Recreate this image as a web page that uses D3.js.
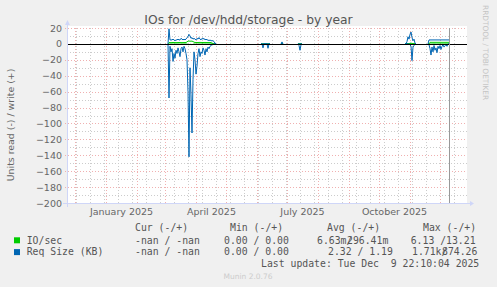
<!DOCTYPE html>
<html lang="en">
<head>
<meta charset="UTF-8">
<title>IOs for /dev/hdd/storage - by year</title>
<script src="https://d3js.org/d3.v7.min.js"></script>
<style>
  body { margin: 0; background: #f0f0f0; }
  svg { display: block; }
  .title { font-family: "DejaVu Sans", sans-serif; font-size: 12.3px; fill: #555; }
  .axis text { font-family: "DejaVu Sans", sans-serif; font-size: 9.5px; fill: #666; }
  .legend text { font-family: "DejaVu Sans Mono", monospace; font-size: 9.8px; fill: #555; white-space: pre; }
</style>
</head>
<body>
<script>
const parseDay = d3.timeParse("%Y-%m-%d");

// 400 day window
const timeStart = "2024-11-23";
const timeEnd = "2025-12-28";
const nowTime = "2025-12-09T22:10";

const yTicks = [20, 0, -20, -40, -60, -80, -100, -120, -140, -160, -180, -200];
const monthLabels = ["2025-01-16", "2025-04-16", "2025-07-16", "2025-10-16"];
const minorGridAnchor = "2025-07-28";

// each run of daily samples starts on one of these days
const runStarts = ["2025-03-04", "2025-06-05", "2025-06-25", "2025-07-12", "2025-10-27", "2025-11-19"];

// IO/sec
const ioWrite = [
  [0, 1.7, 1.7, 1.6, 1.7, 1.8, 1.7, 1.7, 1.6, 1.7, 1.7, 1.8, 1.7, 1.7, 1.6, 1.7, 1.7, 1.8, 1.7, 2.5, 3.5, 3.6, 3.4, 3.5, 3.5, 3.0, 2.2,
   1.8, 1.8, 1.7, 1.8, 1.8, 1.9, 1.8, 1.8, 1.7, 1.8, 1.8, 1.8, 1.7, 1.8, 1.8, 1.8, 1.7, 1.0, 0.5, 0, 0, 0],
  [0, 0, 0, 0, 0, 0, 0, 0, 0, 0],
  [0, 0.2, 0],
  [0, 0, 0, 0, 0],
  [0, 0, 0.3, 0.6, 0.4, 0.8, 1.0, 0.5, 0.3, 0.4, 0.1, 0],
  [0, 0, 2, 2, 2, 2, 2, 2, 2, 2, 2, 2, 2, 2, 2, 2, 2, 2, 2, 2, 2, 2]
];
const ioRead = [
  [0, -0.4, -0.1, -0.2, -0.1, -0.3, -0.2, -0.2, -0.1, -0.2, -0.1, -0.2, -0.3, -0.1, -0.1, -0.2, -0.1, -0.1, -0.2, -0.3, -0.6, -1.2, -0.4, -0.7, -1.0, -0.5, -0.2,
   -0.2, -0.4, -0.3, -0.2, -0.1, -0.2, -0.2, -0.1, -0.1, -0.2, -0.1, -0.1, -0.2, -0.1, -0.1, -0.1, -0.1, 0, 0, 0, 0, 0],
  [0, 0, -0.1, 0, 0, 0, 0, -0.1, 0, 0],
  [0, 0, 0],
  [0, 0, -0.1, 0, 0],
  [0, 0, 0, 0, 0, 0, -0.1, -0.3, -0.1, 0, 0, 0],
  [0, 0, -0.1, -0.2, -0.1, -0.1, 0, -0.1, -0.1, -0.2, 0, -0.1, 0, -0.1, 0, 0, -0.1, 0, 0, 0, 0, 0]
];

// Req Size (KB)
const reqWrite = [
  [0, 19, 5, 5, 5, 6, 5, 4, 5, 5, 6, 5, 5, 7, 6, 5, 6, 5, 6, 8, 9, 12, 10, 7, 8, 6, 7, 6, 5, 7, 6, 8, 6, 5, 7, 6, 7, 5, 6, 5, 5, 4, 5, 4, 4, 4, 3, 1, 0],
  [0, 0, 0, 0, 0, 0, 0, 0, 0, 0],
  [0, 2.5, 0],
  [0, 0, 0, 0, 0],
  [0, 0, 3, 9, 6, 12, 15, 8, 4, 6, 1, 0],
  [0, 5, 5, 5, 5, 5, 5, 5, 5, 5, 5, 5, 5, 5, 5, 5, 5, 5, 5, 5, 5, 5]
];
const reqRead = [
  [0, -68, -3, -10, -6, -22, -12, -18, -8, -12, -5, -10, -16, -6, -4, -10, -3, -6, -12, -20, -60, -142, -30, -64, -112, -45, -10, -20, -38, -28,
   -12, -6, -16, -10, -12, -5, -8, -14, -6, -10, -4, -6, -3, -2, -1, -1, 0, 0, 0],
  [0, 0, -5, 0, 0, 0, 0, -5.5, 0, 0],
  [0, 0, 0],
  [0, -2, -8, -1, 0],
  [0, 0, 0, 0, 0, -1, -3, -21, -4, -2, 0, 0],
  [0, -1, -6, -14, -4, -10, -2, -8, -5, -11, -3, -6, -2, -7, -3, -1, -4, -2, -1, -3, 0, 0]
];

const legendRows = [
  { name: "IO/sec", color: "#00cc00", cur: "-nan / -nan", min: "0.00 / 0.00", avg: ["6.63m/", "296.41m"], max: ["6.13 /13.21", ""] },
  { name: "Req Size (KB)", color: "#0066b3", cur: "-nan / -nan", min: "0.00 / 0.00", avg: ["2.32 / 1.19", ""], max: ["1.71k/", "874.26"] }
];

const width = 497, height = 287;
const plot = { left: 67, right: 467, top: 28, bottom: 203 };

const svg = d3.select("body").append("svg")
  .attr("width", width)
  .attr("height", height);

svg.append("rect").attr("width", width).attr("height", height).attr("fill", "#f0f0f0");
svg.append("rect")
  .attr("x", plot.left).attr("y", plot.top - 2)
  .attr("width", plot.right - plot.left).attr("height", plot.bottom - plot.top + 2)
  .attr("fill", "#fff");

const xScale = d3.scaleTime()
  .domain([parseDay(timeStart), parseDay(timeEnd)])
  .range([plot.left, plot.right]);
const yScale = d3.scaleLinear()
  .domain([-200, 20])
  .range([plot.bottom, plot.top]);

// grid
const minorColor = "#cccccc", majorColor = "#f0b0b0";
const grid = svg.append("g").attr("shape-rendering", "crispEdges");
const minorDays = d3.timeDay.every(1).range(parseDay(timeStart), parseDay(timeEnd))
  .filter(d => Math.round((d - parseDay(minorGridAnchor)) / 864e5) % 14 === 0);
grid.selectAll(".vminor").data(minorDays).enter().append("line")
  .attr("x1", d => Math.round(xScale(d)) + 0.5).attr("x2", d => Math.round(xScale(d)) + 0.5)
  .attr("y1", plot.top).attr("y2", plot.bottom)
  .attr("stroke", minorColor).attr("stroke-dasharray", "1,2");
const yMinor = d3.range(-190, 20, 20);
grid.selectAll(".hminor").data(yMinor).enter().append("line")
  .attr("x1", plot.left).attr("x2", plot.right)
  .attr("y1", d => Math.round(yScale(d)) + 0.5).attr("y2", d => Math.round(yScale(d)) + 0.5)
  .attr("stroke", minorColor).attr("stroke-dasharray", "1,2");
const months = d3.timeMonth.range(parseDay(timeStart), parseDay(timeEnd));
grid.selectAll(".vmajor").data(months).enter().append("line")
  .attr("x1", d => Math.round(xScale(d)) + 0.5).attr("x2", d => Math.round(xScale(d)) + 0.5)
  .attr("y1", plot.top).attr("y2", plot.bottom + 2)
  .attr("stroke", majorColor).attr("stroke-dasharray", "1,2");
grid.selectAll(".hmajor").data(yTicks.filter(v => v !== 0 && v !== -200)).enter().append("line")
  .attr("x1", plot.left - 2).attr("x2", plot.right)
  .attr("y1", d => Math.round(yScale(d)) + 0.5).attr("y2", d => Math.round(yScale(d)) + 0.5)
  .attr("stroke", majorColor).attr("stroke-dasharray", "1,2");

// data lines
const lineFor = start => d3.line()
  .x((d, i) => xScale(d3.timeDay.offset(parseDay(start), i)))
  .y(d => yScale(d));

const series = [
  { runs: ioRead, color: "#00cc00" },
  { runs: ioWrite, color: "#00cc00" },
  { runs: reqRead, color: "#0066b3" },
  { runs: reqWrite, color: "#0066b3" }
];
series.forEach(s => {
  svg.append("g").selectAll("path").data(s.runs).enter().append("path")
    .attr("d", (vals, k) => lineFor(runStarts[k])(vals))
    .attr("fill", "none")
    .attr("stroke", s.color)
    .attr("stroke-width", 1);
});

// zero line
svg.append("line")
  .attr("x1", plot.left).attr("x2", plot.right)
  .attr("y1", Math.round(yScale(0)) + 0.5).attr("y2", Math.round(yScale(0)) + 0.5)
  .attr("stroke", "#000").attr("shape-rendering", "crispEdges");

// now line
const nowX = Math.round(xScale(new Date(nowTime))) + 0.5;
svg.append("line")
  .attr("x1", nowX).attr("x2", nowX)
  .attr("y1", plot.top).attr("y2", plot.bottom)
  .attr("stroke", "#999").attr("shape-rendering", "crispEdges");

// axes lines + arrows
const axisColor = "#cfd6f8";
svg.append("line").attr("x1", plot.left - 4).attr("x2", plot.right + 4)
  .attr("y1", plot.bottom + 0.5).attr("y2", plot.bottom + 0.5)
  .attr("stroke", axisColor).attr("shape-rendering", "crispEdges");
svg.append("line").attr("x1", plot.left + 0.5).attr("x2", plot.left + 0.5)
  .attr("y1", plot.bottom + 4).attr("y2", plot.top - 4)
  .attr("stroke", axisColor).attr("shape-rendering", "crispEdges");
svg.append("path")
  .attr("d", `M${plot.right + 3},${plot.bottom - 2} L${plot.right + 7},${plot.bottom + 0.5} L${plot.right + 3},${plot.bottom + 3} Z`)
  .attr("fill", axisColor);
svg.append("path")
  .attr("d", `M${plot.left - 2},${plot.top - 3} L${plot.left + 0.5},${plot.top - 8} L${plot.left + 3},${plot.top - 3} Z`)
  .attr("fill", axisColor);

// tick labels
const yAxis = svg.append("g").attr("class", "axis")
  .attr("transform", `translate(${plot.left - 3},0)`)
  .call(d3.axisLeft(yScale).tickValues(yTicks).tickSize(0).tickPadding(2));
yAxis.select(".domain").remove();

const xAxis = svg.append("g").attr("class", "axis")
  .attr("transform", `translate(0,${plot.bottom + 2})`)
  .call(d3.axisBottom(xScale).tickValues(monthLabels.map(parseDay))
    .tickFormat(d3.timeFormat("%B %Y")).tickSize(0).tickPadding(3));
xAxis.select(".domain").remove();
xAxis.selectAll("text").attr("font-size", "9.8px");

// title and side texts
svg.append("text").attr("class", "title")
  .attr("x", 248.5).attr("y", 24).attr("text-anchor", "middle")
  .text("IOs for /dev/hdd/storage - by year");

svg.append("text")
  .attr("transform", "translate(14,125) rotate(-90)")
  .attr("text-anchor", "middle")
  .attr("font-family", "DejaVu Sans, sans-serif").attr("font-size", "9.4px").attr("fill", "#666")
  .text("Units read (-) / write (+)");

svg.append("text")
  .attr("transform", "translate(483,5) rotate(90)")
  .attr("text-anchor", "start")
  .attr("font-family", "DejaVu Sans, sans-serif").attr("font-size", "7.4px").attr("fill", "#c4c4c4")
  .text("RRDTOOL / TOBI OETIKER");

// legend
const legend = svg.append("g").attr("class", "legend");
const heads = [["Cur (-/+)", 135], ["Min (-/+)", 230], ["Avg (-/+)", 327], ["Max (-/+)", 423]];
legend.selectAll(".head").data(heads).enter().append("text")
  .attr("x", d => d[1]).attr("y", 230.8).text(d => d[0]);

const rows = legend.selectAll(".row").data(legendRows).enter().append("g")
  .attr("transform", (d, i) => `translate(0,${243.5 + i * 11.8})`);
rows.append("rect").attr("x", 14).attr("y", -6.2).attr("width", 6).attr("height", 6)
  .attr("fill", d => d.color);
rows.append("text").attr("x", 26.7).text(d => d.name);
rows.append("text").attr("x", 135).text(d => d.cur);
rows.append("text").attr("x", 224).text(d => d.min);
rows.append("text").attr("x", (d, i) => i === 0 ? 317 : 328).text(d => d.avg[0]);
rows.append("text").attr("x", 347).text(d => d.avg[1]);
rows.append("text").attr("x", (d, i) => i === 0 ? 410.7 : 412).text(d => d.max[0]);
rows.append("text").attr("x", 442).text(d => d.max[1]);

legend.append("text").attr("x", 261).attr("y", 267)
  .text("Last update: Tue Dec  9 22:10:04 2025");

svg.append("text")
  .attr("x", 248).attr("y", 279).attr("text-anchor", "middle")
  .attr("font-family", "DejaVu Sans, sans-serif").attr("font-size", "7.5px").attr("fill", "#cccccc")
  .text("Munin 2.0.76");
</script>
</body>
</html>
